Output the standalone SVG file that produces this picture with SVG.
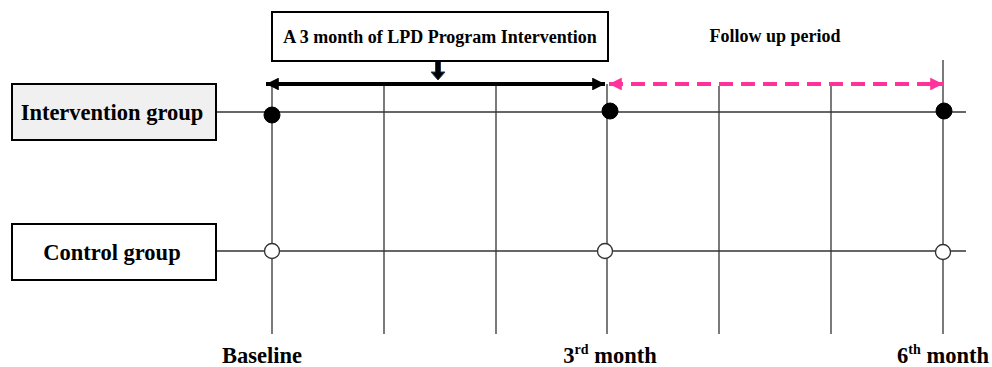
<svg xmlns="http://www.w3.org/2000/svg" width="992" height="367" viewBox="0 0 992 367">
<style>
.t{font-family:"Liberation Serif","Times New Roman",serif;font-weight:bold;fill:#000;}
.box{stroke:#000;stroke-width:2;}
.grid{stroke:#333;stroke-width:1.3;fill:none;}
.fd{fill:#000;stroke:#000;}
.od{fill:#fff;stroke:#333;stroke-width:1.3;}
</style>
<defs>
<marker id="ah" viewBox="0 0 10 10" refX="10" refY="5" markerWidth="3.4" markerHeight="3.2" orient="auto-start-reverse" markerUnits="strokeWidth">
<path d="M0,0 L10,5 L0,10 Z" fill="#000"/>
</marker>
<marker id="ap" viewBox="0 0 10 10" refX="10" refY="5" markerWidth="3.4" markerHeight="3.2" orient="auto-start-reverse" markerUnits="strokeWidth">
<path d="M0,0 L10,5 L0,10 Z" fill="#ff3399"/>
</marker>
</defs>
<rect width="992" height="367" fill="#fff"/>
<g id="connectors">
<line class="grid" x1="217" y1="112" x2="966" y2="112"/>
<line class="grid" x1="217" y1="251" x2="966" y2="251"/>
<line class="grid" x1="272" y1="84" x2="272" y2="334"/>
<line class="grid" x1="384" y1="84" x2="384" y2="334"/>
<line class="grid" x1="496" y1="84" x2="496" y2="334"/>
<line class="grid" x1="607" y1="84" x2="607" y2="334"/>
<line class="grid" x1="719" y1="86" x2="719" y2="334"/>
<line class="grid" x1="831" y1="86" x2="831" y2="334"/>
<line class="grid" x1="943" y1="60" x2="943" y2="334"/>
<line x1="266" y1="84" x2="605" y2="84" stroke="#000" stroke-width="4" marker-start="url(#ah)" marker-end="url(#ah)"/>
<line x1="609" y1="84" x2="943" y2="84" stroke="#ff3399" stroke-width="4" stroke-dasharray="14 8" marker-start="url(#ap)" marker-end="url(#ap)"/>
<path d="M435.5,61 H440.5 V72 H445 L438,80 L431,72 H435.5 Z" fill="#000" stroke="#1f3a5f" stroke-width="1"/>
</g>
<g id="top-label">
<rect class="box" x="272" y="12" width="336" height="49" fill="#fff" stroke-width="1.3"/>
<text class="t" x="440" y="43" font-size="18" text-anchor="middle">A 3 month of LPD Program Intervention</text>
</g>
<g id="follow-up-label">
<text class="t" x="775" y="42" font-size="18" text-anchor="middle">Follow up period</text>
</g>
<g id="intervention-group">
<rect class="box" x="12" y="84" width="204" height="56" fill="#f0f0f0"/>
<text class="t" x="112" y="120" font-size="22.5" text-anchor="middle">Intervention group</text>
</g>
<g id="control-group">
<rect class="box" x="12" y="224" width="204" height="56" fill="#fff"/>
<text class="t" x="112" y="260" font-size="22.5" text-anchor="middle">Control group</text>
</g>
<g id="dots">
<circle class="fd" cx="272" cy="115" r="8"/>
<circle class="fd" cx="610" cy="111" r="8"/>
<circle class="fd" cx="944" cy="111" r="8"/>
<circle class="od" cx="272" cy="251" r="7.5"/>
<circle class="od" cx="605" cy="251" r="7.5"/>
<circle class="od" cx="943" cy="252" r="7.5"/>
</g>
<g id="axis-labels">
<text class="t" x="262" y="363" font-size="22.5" text-anchor="middle">Baseline</text>
<text class="t" x="610" y="363" font-size="22.5" text-anchor="middle">3<tspan font-size="14" dy="-9">rd</tspan><tspan dy="9"> month</tspan></text>
<text class="t" x="943" y="363" font-size="22.5" text-anchor="middle">6<tspan font-size="14" dy="-9">th</tspan><tspan dy="9"> month</tspan></text>
</g>
</svg>
